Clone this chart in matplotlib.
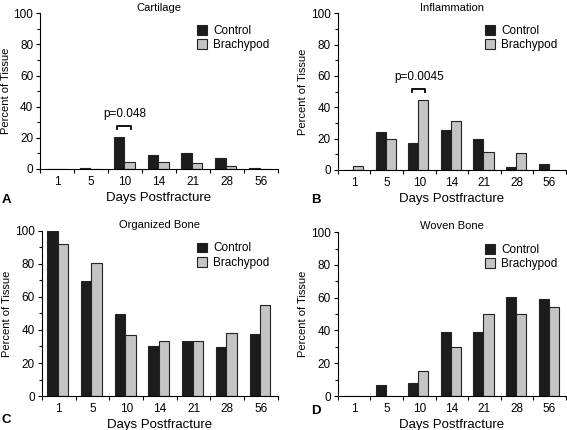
import numpy as np
import matplotlib
matplotlib.use('Agg')
import matplotlib.pyplot as plt
from matplotlib.ticker import MultipleLocator, FixedLocator

plt.rcParams['font.family'] = ['Liberation Sans', 'DejaVu Sans']

days = ['1', '5', '10', '14', '21', '28', '56']
groups = ['Control', 'Brachypod']

titles = ['Cartilage', 'Inflammation', 'Organized Bone', 'Woven Bone']
letters = ['A', 'B', 'C', 'D']

cartilage_control = [0, 0.6, 20.5, 9, 10, 6.8, 0.6]
cartilage_brachy = [0, 0, 4.2, 4.2, 3.6, 2.2, 0]
inflam_control = [0, 24.3, 17, 25.6, 19.5, 1.7, 3.8]
inflam_brachy = [2.5, 19.8, 44.7, 30.9, 11.7, 10.9, 0]
organized_control = [100, 69.5, 49.7, 30.2, 33.4, 29.6, 37.5]
organized_brachy = [91.9, 80.8, 37, 33.4, 33.4, 38.1, 55.1]
woven_control = [0, 6.7, 7.7, 39.3, 39.3, 60.4, 59.4]
woven_brachy = [0, 0, 15.1, 30, 49.8, 49.8, 54.6]

series = [
    (cartilage_control, cartilage_brachy),
    (inflam_control, inflam_brachy),
    (organized_control, organized_brachy),
    (woven_control, woven_brachy),
]

# significance brackets: (panel, day index, bracket height, label)
sig_panels = [0, 1]
sig_day = [2, 2]
sig_height = [27.5, 51.5]
sig_text = ['p=0.048', 'p=0.0045']

colors = ['#1c1c1c', '#c4c4c4']

fig = plt.figure(figsize=(5.67, 4.30), dpi=100)
rects = [
    [0.071, 0.607, 0.419, 0.362],
    [0.596, 0.605, 0.402, 0.364],
    [0.074, 0.079, 0.416, 0.384],
    [0.596, 0.079, 0.402, 0.381],
]
letter_pos = [(0.003, 0.528), (0.548, 0.528), (0.003, 0.016), (0.549, 0.037)]

w = 0.31
x = np.arange(len(days))
for i, ax_rect in enumerate(rects):
    ax = fig.add_axes(ax_rect)
    c, b = series[i]
    for j, vals in enumerate([c, b]):
        ax.bar(x + (j - 0.5) * w - 0.03, vals, w, color=colors[j],
               edgecolor='#222222', linewidth=0.8, label=groups[j])
    ax.set_xlim(-0.5, len(days) - 0.5)
    ax.set_ylim(0, 100)
    ax.spines['top'].set_visible(False)
    ax.spines['right'].set_visible(False)
    ax.spines['left'].set_linewidth(0.8)
    ax.spines['bottom'].set_linewidth(0.8)
    ax.yaxis.set_major_locator(MultipleLocator(20))
    ax.yaxis.set_minor_locator(MultipleLocator(10))
    ax.set_xticks(x)
    ax.set_xticklabels(days)
    ax.xaxis.set_minor_locator(FixedLocator(np.arange(-0.5, len(days), 1.0)))
    ax.tick_params(axis='x', which='major', length=0, labelsize=8.5, pad=5)
    ax.tick_params(axis='x', which='minor', length=3, width=0.8)
    ax.tick_params(axis='y', which='major', length=3, width=0.8, labelsize=8.5, pad=2)
    ax.tick_params(axis='y', which='minor', length=2, width=0.8)
    ax.set_title(titles[i], fontsize=8, pad=2)
    ax.set_xlabel('Days Postfracture', fontsize=9.5, labelpad=3)
    ax.set_ylabel('Percent of Tissue', fontsize=8, labelpad=2)
    ax.legend(loc='upper right', frameon=False, fontsize=8.5, handlelength=0.9,
              handleheight=0.9, handletextpad=0.5, labelspacing=0.2,
              borderaxespad=0.3, bbox_to_anchor=(1.0, 0.98))
    fig.text(letter_pos[i][0], letter_pos[i][1], letters[i], fontsize=9.5,
             fontweight='bold')
    if i in sig_panels:
        k = sig_panels.index(i)
        d = sig_day[k]
        h = sig_height[k]
        x0 = d - w - 0.03 + 0.1
        x1 = d + w - 0.03 - 0.1
        ax.plot([x0, x0, x1, x1], [h - 1.5, h, h, h - 1.5], color='black', lw=1.3)
        ax.text(d, h + 4, sig_text[k], ha='center', va='bottom', fontsize=8.5)

fig.savefig('out.png', dpi=100)
